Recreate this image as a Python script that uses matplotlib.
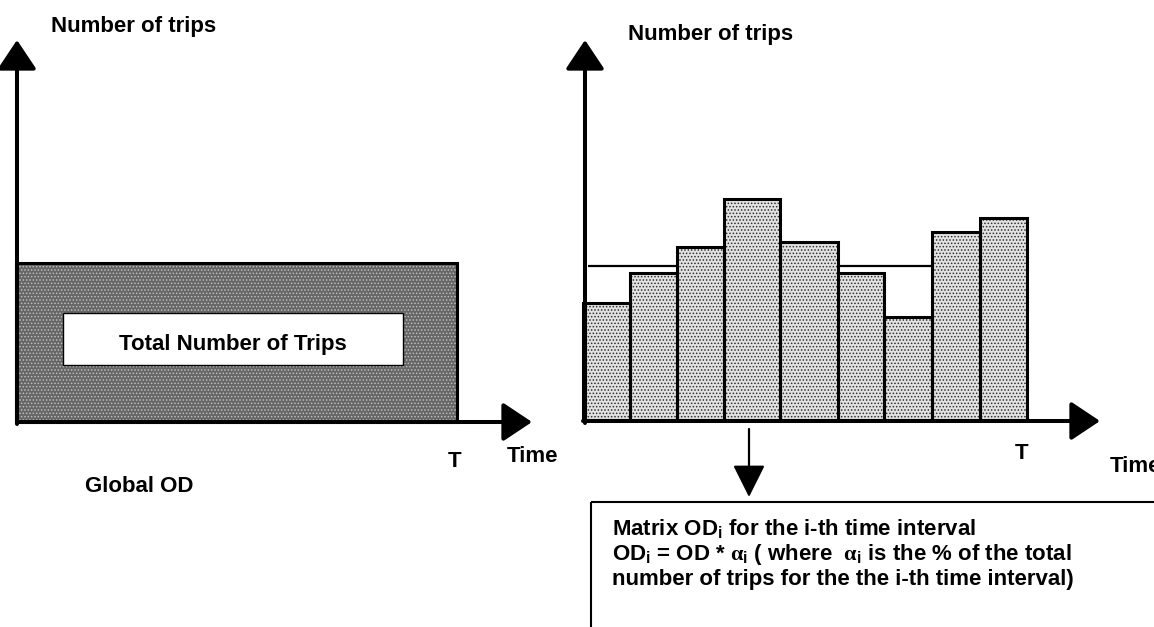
import numpy as np
import matplotlib
matplotlib.use('Agg')
import matplotlib.pyplot as plt
from matplotlib.patches import Rectangle

# Data (trip counts in picture units above the time axis)
global_trips = 159          # height of the "global OD" block
global_span = [16, 457]     # start / end (T) of the global interval
interval_edges = [583, 630, 677, 724, 780, 838, 884, 932, 980, 1027]
interval_trips = [117, 147, 173, 221, 178, 147, 103, 188, 202]
avg_trips = 154

plt.rcParams['font.family'] = ['Liberation Sans', 'DejaVu Sans']
plt.rcParams['font.weight'] = 'bold'
plt.rcParams['mathtext.fontset'] = 'custom'
plt.rcParams['mathtext.rm'] = 'Liberation Sans:bold'
plt.rcParams['mathtext.bf'] = 'Liberation Sans:bold'
plt.rcParams['mathtext.it'] = 'Liberation Serif:bold'
plt.rcParams['hatch.linewidth'] = 0.7

W, H = 1154, 627
fig = plt.figure(figsize=(W / 100, H / 100), dpi=100)
ax = fig.add_axes([0, 0, 1, 1])
ax.set_xlim(0, W)
ax.set_ylim(H, 0)
ax.axis('off')

fs = 16
base_l = 422   # left time axis
base_r = 420   # right bars bottom


def arrow(x0, y0, x1, y1, lw=2.9, hl=0.9, hw=0.6, ms=20):
    ax.annotate('', xy=(x1, y1), xytext=(x0, y0),
                arrowprops=dict(arrowstyle='-|>,head_length=%s,head_width=%s' % (hl, hw),
                                mutation_scale=ms, lw=lw, color='black',
                                shrinkA=0, shrinkB=0), zorder=5)


# ---------------- left panel: global OD ----------------
ax.bar([global_span[0]], [-global_trips], width=global_span[1] - global_span[0],
       bottom=base_l, align='edge', color='#666666', edgecolor='#bdbdbd',
       hatch='.....', linewidth=0, zorder=2)
ax.bar([global_span[0]], [-global_trips], width=global_span[1] - global_span[0],
       bottom=base_l, align='edge', fill=False, edgecolor='black',
       linewidth=2.2, zorder=3)
ax.add_patch(Rectangle((63, 313), 340, 52, facecolor='white',
                       edgecolor='black', lw=1.0, zorder=4))
ax.text(233, 350, 'Total Number of Trips', fontsize=fs, ha='center',
        va='baseline', zorder=5)

arrow(17, 424, 17, 40)
arrow(17, base_l, 532, base_l)
ax.text(51, 32, 'Number of trips', fontsize=fs, va='baseline')
ax.text(455, 467, 'T', fontsize=fs, ha='center', va='baseline')
ax.text(507, 462, 'Time', fontsize=fs, va='baseline')
ax.text(85, 492, 'Global OD', fontsize=fs, va='baseline')

# ---------------- right panel: time intervals ----------------
edges = np.array(interval_edges)
widths = np.diff(edges)
heights = -np.array(interval_trips)
ax.hlines(base_r - avg_trips, 588, 932, color='black', lw=1.6, zorder=1)
ax.bar(edges[:-1], heights, width=widths, bottom=base_r, align='edge',
       color='#e2e2e2', edgecolor='#2e2e2e', hatch='.....', linewidth=0, zorder=2)
ax.bar(edges[:-1], heights, width=widths, bottom=base_r, align='edge',
       fill=False, edgecolor='black', linewidth=2.2, zorder=3)

arrow(585, 423, 585, 40)
arrow(583, 421, 1100, 421)
ax.text(628, 40, 'Number of trips', fontsize=fs, va='baseline')
ax.text(1022, 459, 'T', fontsize=fs, ha='center', va='baseline')
ax.text(1110, 472, 'Time', fontsize=fs, va='baseline')

# pointer to the i-th interval and explanation box
arrow(749, 429, 749, 497, lw=1.6, hl=1.0, hw=0.5, ms=20)
ax.add_patch(Rectangle((591, 502), 700, 300, fill=False, edgecolor='black',
                       lw=1.5, zorder=4))
ax.text(612, 535, r'Matrix $\mathrm{OD_i}$ for the i-th time interval',
        fontsize=fs, va='baseline')
ax.text(612, 560, r'$\mathrm{OD_i}$ = OD * $\alpha_\mathrm{i}$ ( where  $\alpha_\mathrm{i}$ is the % of the total',
        fontsize=fs, va='baseline')
ax.text(612, 585, 'number of trips for the the i-th time interval)',
        fontsize=fs, va='baseline')

fig.savefig('out.png', dpi=100)
